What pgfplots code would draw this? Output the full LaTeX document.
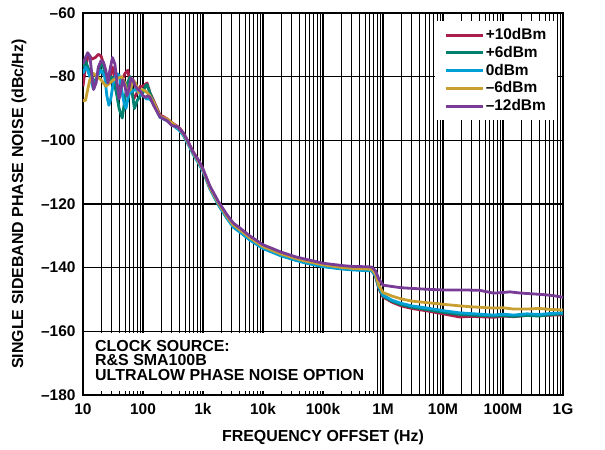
\documentclass[border=0pt]{standalone}
\usepackage{fontspec}
\setmainfont{Liberation Sans}
\usepackage{pgfplots}
\pgfplotsset{compat=1.18}

\definecolor{cred}{RGB}{170,30,75}
\definecolor{cteal}{RGB}{0,128,110}
\definecolor{cblue}{RGB}{0,160,215}
\definecolor{cgold}{RGB}{200,160,50}
\definecolor{cpurple}{RGB}{120,60,150}

\begin{document}
\begin{tikzpicture}
% fixed page: 605 x 450, axis box at 83..563 / 13..395
\useasboundingbox (-83bp,-55bp) rectangle (522bp,395bp);
\begin{axis}[
    at={(0,0)}, anchor=south west,
    scale only axis, width=480bp, height=382bp,
    xmode=log, log basis x=10,
    xmin=10, xmax=1e9, ymin=-180, ymax=-60,
    xtick={10,100,1000,10000,100000,1000000,10000000,100000000,1000000000},
    xticklabels={10,100,1k,10k,100k,1M,10M,100M,1G},
    minor xtick={20,30,40,50,60,70,80,90,
        200,300,400,500,600,700,800,900,
        2000,3000,4000,5000,6000,7000,8000,9000,
        20000,30000,40000,50000,60000,70000,80000,90000,
        200000,300000,400000,500000,600000,700000,800000,900000,
        2e6,3e6,4e6,5e6,6e6,7e6,8e6,9e6,
        2e7,3e7,4e7,5e7,6e7,7e7,8e7,9e7,
        2e8,3e8,4e8,5e8,6e8,7e8,8e8,9e8},
    ytick={-180,-160,-140,-120,-100,-80,-60},
    yticklabels={–180,–160,–140,–120,–100,–80,–60},
    grid=both,
    major grid style={black, line width=1.2bp},
    minor grid style={black, line width=0.8bp},
    major tick length=0pt, minor tick length=0pt,
    axis line style={black, line width=1.3bp},
    tick label style={font=\fontsize{15.5}{18}\selectfont\bfseries},
    xticklabel style={yshift=-5bp},
    yticklabel style={xshift=-4bp},
    every axis y label/.style={at={(axis description cs:-0.1333,0.5)}, rotate=90, anchor=center},
    every axis x label/.style={at={(axis description cs:0.5,-0.11)}, anchor=center},
    label style={font=\fontsize{16}{18}\selectfont\bfseries},
    xlabel={FREQUENCY OFFSET (Hz)},
    ylabel={SINGLE SIDEBAND PHASE NOISE (dBc/Hz)},
    legend cell align=left,
    legend style={at={(axis description cs:0.9875,0.979)}, anchor=north east,
        draw=none, fill=white, inner xsep=9bp, inner ysep=5bp,
        font=\fontsize{15.5}{18}\selectfont\bfseries,
        nodes={inner sep=1.5bp, text height=11.8bp, text depth=3bp}},
    legend image code/.code={\draw[#1, line width=3bp] (0bp,0bp) -- (37bp,0bp);},
    every axis plot/.append style={line width=2.8bp, line join=round},
]
\addplot[cred] coordinates {(10,-83) (11,-77) (12,-74) (13,-73.5) (14,-74.5) (16,-74) (18,-73) (20,-73.5) (22,-76) (25,-82) (28,-80) (31,-77) (35,-82) (40,-85) (45,-81) (50,-79) (56,-78) (62,-83) (70,-87) (80,-85) (90,-83) (100,-83) (117,-82) (130,-85) (150,-87.5) (192,-92) (250,-93.2) (316,-94.7) (400,-96) (464,-97.5) (550,-100) (680,-103.5) (850,-106.5) (1000,-109.2) (1300,-114.8) (1800,-119.8) (2500,-124) (3200,-126.8) (4100,-128.5) (6000,-131) (10000,-133.8) (20000,-136.1) (35000,-137.5) (50000,-138.3) (100000,-139.5) (200000,-140.2) (300000,-140.5) (500000,-140.7) (650000,-140.9) (750000,-142.7) (850000,-146.5) (1000000,-149.2) (1400000,-150.8) (2000000,-152) (3000000,-152.8) (5500000,-153.6) (10000000,-154.5) (19000000,-155.5) (30000000,-155.3) (70000000,-155.6) (100000000,-155.2) (150000000,-155.4) (250000000,-155) (500000000,-155) (1000000000,-154.8)};
\addlegendentry{+10dBm}
\addplot[cteal] coordinates {(10,-77) (11,-75) (12,-77) (13,-78.5) (14,-80) (16,-82) (18,-79) (20,-76) (22,-77) (24,-80) (26,-82) (30,-80) (33,-82) (36,-85) (40,-90) (45,-93) (50,-87) (55,-82) (61,-80) (66,-85) (72,-90) (80,-87.5) (90,-86) (100,-85) (110,-83) (117,-82.5) (130,-85) (150,-88) (192,-92.5) (250,-93.5) (316,-95) (400,-96.5) (464,-98) (550,-100.5) (680,-104) (850,-107) (1000,-109.5) (1300,-115) (1800,-120) (2500,-124.3) (3200,-127) (4100,-128.6) (6000,-131.1) (10000,-133.8) (20000,-136.1) (35000,-137.5) (50000,-138.3) (100000,-139.5) (200000,-140.2) (300000,-140.5) (500000,-140.7) (650000,-140.8) (750000,-142.5) (850000,-146.2) (1000000,-148.9) (1400000,-150.5) (2000000,-151.6) (3000000,-152.4) (5500000,-153.2) (10000000,-154) (19000000,-154.7) (40000000,-155) (70000000,-155.2) (100000000,-155.1) (150000000,-155.3) (250000000,-155) (400000000,-155.2) (600000000,-154.8) (1000000000,-154.5)};
\addlegendentry{+6dBm}
\addplot[cblue] coordinates {(10,-79) (11,-77) (12,-78) (13,-80) (14,-82) (15,-84) (17,-80) (20,-78) (23,-80) (25,-86) (27,-89) (29,-87) (32,-82) (36,-79) (40,-79.5) (44,-84) (48,-88) (52,-90) (56,-87) (60,-85) (67,-84.5) (75,-84) (85,-85) (100,-86) (115,-87) (130,-87) (150,-88.5) (192,-92.8) (250,-93.8) (316,-95.3) (400,-96.8) (464,-98.3) (550,-100.8) (680,-104.3) (850,-107.3) (1000,-109.8) (1300,-115.2) (1800,-120.3) (2500,-124.5) (3200,-127.3) (4100,-128.8) (6000,-131.3) (10000,-134) (20000,-136.3) (35000,-137.7) (50000,-138.5) (100000,-139.7) (200000,-140.4) (300000,-140.7) (500000,-140.9) (650000,-141) (750000,-142.5) (850000,-146) (1000000,-148.6) (1400000,-150.2) (2000000,-151.2) (3000000,-152) (5500000,-152.7) (10000000,-153.5) (19000000,-154.2) (40000000,-154.6) (70000000,-154.9) (100000000,-154.6) (150000000,-154.9) (250000000,-154.5) (400000000,-154.7) (600000000,-154.4) (1000000000,-154.2)};
\addlegendentry{0dBm}
\addplot[cgold] coordinates {(10,-87.5) (11,-87.5) (12,-84) (13,-81) (15,-79) (17,-80) (20,-81) (24,-83) (28,-82) (32,-81) (38,-80.5) (44,-80) (50,-82) (55,-85) (62,-84) (68,-81) (75,-82) (85,-85) (96,-84) (110,-84.5) (130,-86) (150,-88) (192,-92.5) (250,-93.3) (316,-94.8) (400,-96.3) (464,-97.8) (550,-100.3) (680,-103.8) (850,-106.8) (1000,-109.3) (1300,-114.8) (1800,-119.7) (2500,-123.9) (3200,-126.6) (4100,-128.1) (6000,-130.6) (10000,-133.4) (20000,-135.7) (35000,-137.1) (50000,-137.9) (100000,-139.1) (200000,-139.9) (300000,-140.2) (500000,-140.4) (650000,-140.5) (750000,-142) (850000,-145.5) (1000000,-147.8) (1400000,-148.9) (2000000,-149.8) (3000000,-150.5) (5500000,-151) (10000000,-151.5) (19000000,-152) (30000000,-152.3) (70000000,-152.7) (100000000,-152.6) (150000000,-153) (250000000,-153) (400000000,-152.8) (600000000,-153.1) (1000000000,-153.3)};
\addlegendentry{–6dBm}
\addplot[cpurple] coordinates {(10,-76) (11,-74) (12,-72.5) (13,-73.5) (14,-79) (15,-84) (16.5,-82) (18,-77) (20,-75) (22,-75.5) (24,-78) (26,-82) (28,-78) (31,-74) (34,-76) (37,-82) (40,-87) (43,-84) (46,-81) (50,-83) (54,-86) (58,-84) (63,-80.5) (68,-81) (74,-83) (82,-84) (90,-84.5) (100,-86) (110,-86.5) (120,-86) (131,-86.5) (150,-89) (192,-92.7) (250,-93.8) (300,-95.3) (380,-95.8) (464,-97.6) (550,-100) (680,-103.6) (850,-106.4) (1000,-109) (1300,-114.3) (1800,-119.2) (2500,-123.3) (3200,-126) (4100,-127.5) (6000,-130) (10000,-132.8) (20000,-135.1) (35000,-136.6) (50000,-137.3) (100000,-138.6) (200000,-139.3) (300000,-139.6) (500000,-139.7) (650000,-139.8) (750000,-141) (850000,-143.5) (1000000,-145.5) (1400000,-145.9) (2000000,-146.3) (3000000,-146.5) (5500000,-146.8) (10000000,-147) (20000000,-147) (40000000,-147.1) (55000000,-147.6) (70000000,-148) (100000000,-147.8) (130000000,-147.6) (200000000,-148) (300000000,-148.2) (500000000,-148.5) (700000000,-148.8) (1000000000,-149.3)};
\addlegendentry{–12dBm}
% annotation box
\fill[white] (axis description cs:0.0027,0.0105) rectangle (axis description cs:0.6125,0.1623);
\node[anchor=north west, align=left, inner sep=0pt,
      font=\fontsize{16}{14.6}\selectfont\bfseries]
  at (axis description cs:0.025,0.144)
  {CLOCK SOURCE:\\R\&S SMA100B\\ULTRALOW PHASE NOISE OPTION};
\node[rotate=90, anchor=center, font=\fontsize{10}{12}\selectfont]
  at (axis description cs:1.0708,-0.0707) {20810-030};
\end{axis}
\end{tikzpicture}
\end{document}
